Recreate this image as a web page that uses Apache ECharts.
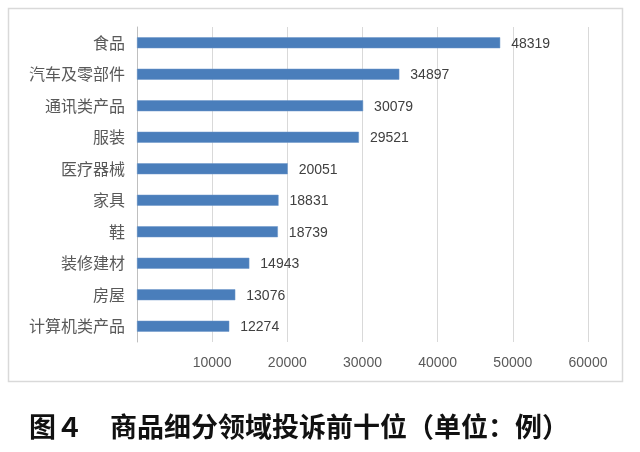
<!DOCTYPE html>
<html><head><meta charset="utf-8">
<script src="https://cdn.jsdelivr.net/npm/echarts@6/dist/echarts.min.js"></script>
<style>html,body{margin:0;padding:0;background:#fff}#c{width:640px;height:452px}</style>
</head><body><div id="c"></div>
<script>
const categories = ['食品','汽车及零部件','通讯类产品','服装','医疗器械','家具','鞋','装修建材','房屋','计算机类产品'];
const values = [48319,34897,30079,29521,20051,18831,18739,14943,13076,12274];
const titleText = '图４　商品细分领域投诉前十位（单位：例）';

const chart = echarts.init(document.getElementById('c'), null, {renderer:'canvas'});
chart.setOption({
  animation:false,
  backgroundColor:'#fff',
  title:{text:titleText,left:24,top:408,textStyle:{fontFamily:'Noto Sans CJK SC',fontSize:27,fontWeight:'bold',color:'#111'}},
  graphic:[{type:'rect',shape:{x:8.5,y:8.5,width:614,height:373},style:{fill:'none',stroke:'#d9d9d9',lineWidth:1.5},silent:true}],
  grid:{left:137,right:52,top:27,bottom:110},
  xAxis:{type:'value',min:0,max:60000,interval:10000,
    axisLine:{show:false},axisTick:{show:false},
    splitLine:{lineStyle:{color:'#d9d9d9',width:1}},
    axisLabel:{color:'#595959',fontSize:14,fontFamily:'Liberation Sans',margin:14,formatter:v=>v===0?'':String(v)}},
  yAxis:{type:'category',inverse:true,data:categories,
    axisLine:{show:true,lineStyle:{color:'#bfbfbf'}},axisTick:{show:false},
    axisLabel:{color:'#595959',fontSize:16,fontFamily:'Noto Sans CJK SC',margin:12}},
  series:[{type:'bar',data:values,barWidth:11,
    itemStyle:{color:'#4a7ebb',borderColor:'#6d97c9',borderWidth:0.5},
    label:{show:true,position:'right',distance:11,color:'#404040',fontSize:14,fontFamily:'Liberation Sans',offset:[0,1]}}]
});
</script></body></html>
